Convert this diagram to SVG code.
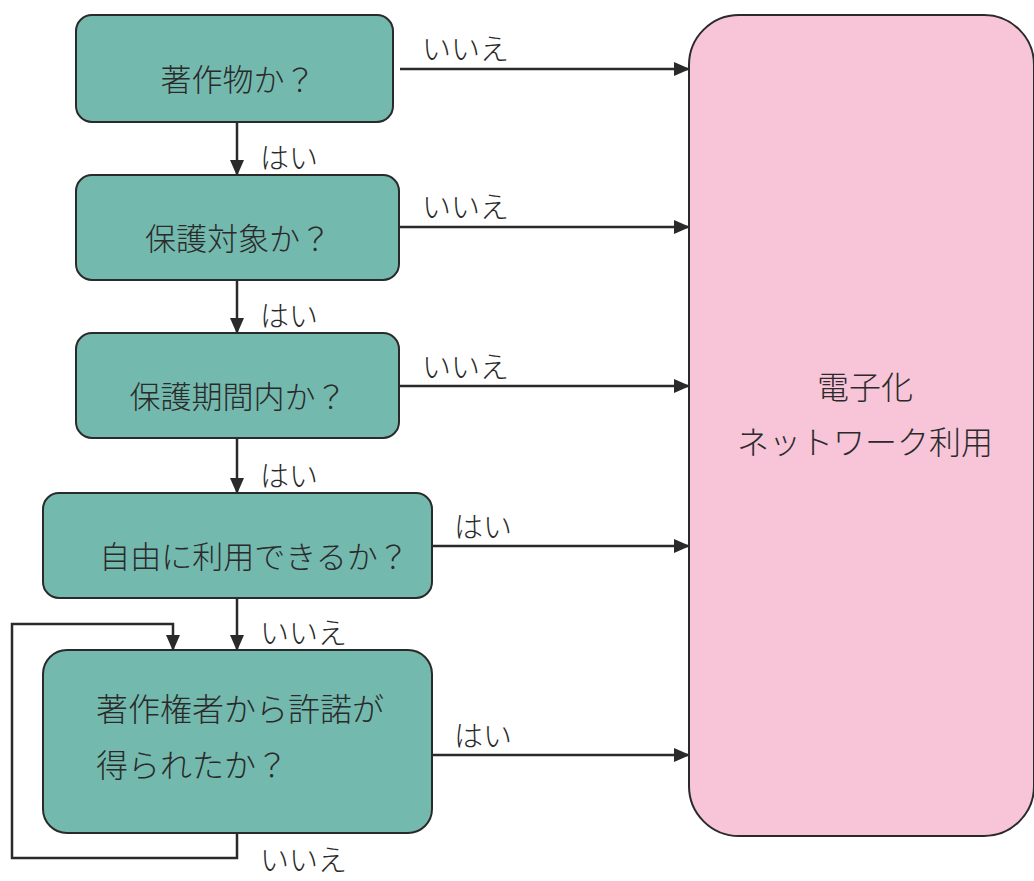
<svg xmlns="http://www.w3.org/2000/svg" width="1034" height="881" viewBox="0 0 1034 881">
<defs>
<style>
.node{fill:#74b9ae;stroke:#2a2a2a;stroke-width:2}
.pink{fill:#f7c4d8;stroke:#2a2a2a;stroke-width:2}
.t{font-family:"Noto Sans CJK JP","Noto Sans CJK SC",sans-serif;font-size:31px;fill:#2a2a2a;font-weight:300}
.t2{font-family:"Noto Sans CJK JP","Noto Sans CJK SC",sans-serif;font-size:32px;fill:#2a2a2a;font-weight:300}
.l{font-family:"Noto Sans CJK JP","Noto Sans CJK SC",sans-serif;font-size:29px;fill:#2a2a2a;font-weight:300}
.c{fill:none;stroke:#2a2a2a;stroke-width:2.5}
</style>
<marker id="ah" markerWidth="16" markerHeight="14" refX="15" refY="7" orient="auto" markerUnits="userSpaceOnUse">
<path d="M0,0 L16,7 L0,14 Z" fill="#2a2a2a"/>
</marker>
</defs>
<rect width="1034" height="881" fill="#ffffff"/>
<g id="connectors">
<line class="c" x1="400" y1="69" x2="689" y2="69" marker-end="url(#ah)"/>
<line class="c" x1="400" y1="227" x2="689" y2="227" marker-end="url(#ah)"/>
<line class="c" x1="400" y1="386" x2="689" y2="386" marker-end="url(#ah)"/>
<line class="c" x1="432" y1="546" x2="689" y2="546" marker-end="url(#ah)"/>
<line class="c" x1="432" y1="755" x2="689" y2="755" marker-end="url(#ah)"/>
<line class="c" x1="237" y1="122" x2="237" y2="175" marker-end="url(#ah)"/>
<line class="c" x1="237" y1="280" x2="237" y2="333" marker-end="url(#ah)"/>
<line class="c" x1="237" y1="438" x2="237" y2="493" marker-end="url(#ah)"/>
<line class="c" x1="237" y1="598" x2="237" y2="650" marker-end="url(#ah)"/>
<polyline class="c" points="237,833 237,858 12,858 12,624 173,624 173,650" marker-end="url(#ah)"/>
<text class="l" x="422" y="60">いいえ</text>
<text class="l" x="422" y="218">いいえ</text>
<text class="l" x="422" y="378">いいえ</text>
<text class="l" x="454" y="538">はい</text>
<text class="l" x="454" y="747">はい</text>
<text class="l" x="260" y="169">はい</text>
<text class="l" x="260" y="327">はい</text>
<text class="l" x="260" y="487">はい</text>
<text class="l" x="260" y="644">いいえ</text>
<text class="l" x="260" y="871" font-size="28">いいえ</text>
</g>
<g id="n1">
<rect class="node" x="76" y="15" width="317" height="107" rx="16"/>
<text class="t" x="238" y="91" text-anchor="middle">著作物か？</text>
</g>
<g id="n2">
<rect class="node" x="76" y="175" width="323" height="105" rx="16"/>
<text class="t" x="238" y="250" text-anchor="middle">保護対象か？</text>
</g>
<g id="n3">
<rect class="node" x="76" y="333" width="323" height="105" rx="16"/>
<text class="t" x="238" y="408" text-anchor="middle">保護期間内か？</text>
</g>
<g id="n4">
<rect class="node" x="43" y="493" width="389" height="105" rx="16"/>
<text class="t" x="254" y="568" text-anchor="middle">自由に利用できるか？</text>
</g>
<g id="n5">
<rect class="node" x="43" y="650" width="389" height="183" rx="24"/>
<text class="t2" x="96" y="721">著作権者から許諾が</text>
<text class="t2" x="96" y="777">得られたか？</text>
</g>
<g id="n6">
<rect class="pink" x="689" y="15" width="345" height="821" rx="50"/>
<text class="t2" x="865" y="399" text-anchor="middle">電子化</text>
<text class="t2" x="865" y="454" text-anchor="middle">ネットワーク利用</text>
</g>
</svg>
